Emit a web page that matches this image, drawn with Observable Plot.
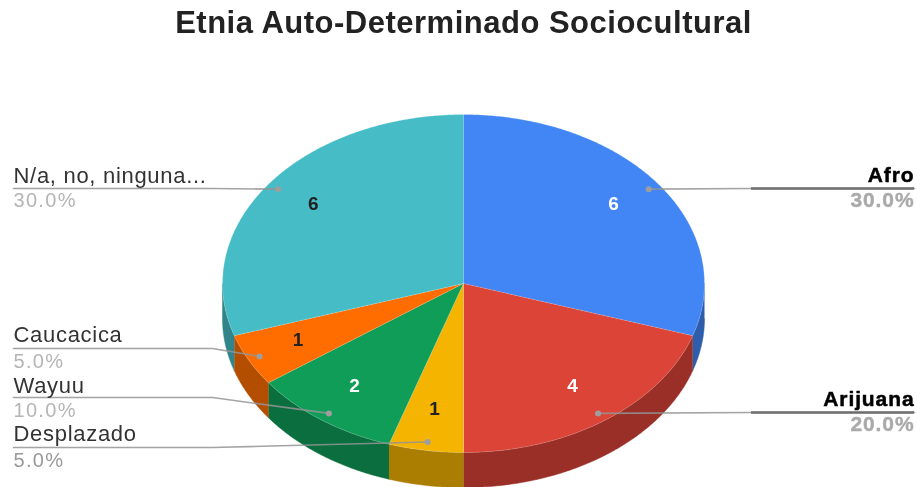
<!DOCTYPE html>
<html lang="es">
<head>
<meta charset="utf-8">
<script src="https://cdn.jsdelivr.net/npm/d3@7"></script>
<script src="https://cdn.jsdelivr.net/npm/@observablehq/plot@0.6"></script>
<style>
html,body{margin:0;padding:0;background:#fff;overflow:hidden}
svg{display:block;filter:blur(0.45px)}
g[font-size="31"] text{letter-spacing:0.5px}
g[font-size="22"] text{letter-spacing:0.7px}
g[font-size="21"] text{letter-spacing:0.9px}
g[font-size="20"] text{letter-spacing:1.3px}
</style>
</head>
<body>
<div id="chart"></div>
<script>
// Data, clockwise from twelve o'clock
const categories = ["Afro", "Arijuana", "Desplazado", "Wayuu", "Caucacica", "N/a, no, ninguna..."];
const counts = [6, 4, 1, 2, 1, 6];
const percentLabels = ["30.0%", "20.0%", "5.0%", "10.0%", "5.0%", "30.0%"];

// Style
const topColors = ["#4285f4", "#db4437", "#f4b400", "#0f9d58", "#ff6d00", "#46bdc6"];
const sideColors = ["#2e5dab", "#992f26", "#ab7d00", "#0a6e3e", "#b34d00", "#318489"];
const countColors = ["#fff", "#fff", "#222", "#fff", "#222", "#222"];
const pctColors = ["#aaa", "#aaa", "#999", "#b5b5b5", "#b5b5b5", "#b5b5b5"];

// Layout
const W = 917, H = 487;
const cx = 463, cy = 283, rx = 241, ry = 169, depth = 35;
const labelY = [175, 399, 433, 385, 334, 175];
const pctY = [200, 424, 460, 410, 361, 200];
const lineY = [188, 412, 447, 397, 348, 188];
const sides = ["r", "r", "l", "l", "l", "l"];
const edgeX = {l: 13, r: 914}, elbowX = {l: 212, r: 751};

const total = d3.sum(counts);
let cum = 0;
const slices = categories.map((name, i) => {
  const a0 = cum / total * 360; cum += counts[i];
  const a1 = cum / total * 360;
  return {i, name, a0, a1, mid: (a0 + a1) / 2};
});
const pt = (deg, r = 1, dy = 0) => {
  const t = deg * Math.PI / 180;
  return {x: cx + rx * r * Math.sin(t), y: cy - ry * r * Math.cos(t) + dy};
};
const arcDegs = (a, b) => {
  const n = Math.max(2, Math.ceil((b - a) * 2));
  return d3.range(n + 1).map(k => a + (b - a) * k / n);
};

// Side walls, front half only
const sidePts = [];
for (const s of slices) {
  const a = Math.max(s.a0, 90), b = Math.min(s.a1, 270);
  if (b <= a) continue;
  const top = arcDegs(a, b).map(d => pt(d));
  const bot = arcDegs(a, b).reverse().map(d => pt(d, 1, depth));
  for (const p of [...top, ...bot]) sidePts.push({...p, id: s.i, color: sideColors[s.i]});
}
// Top face
const topPts = [];
for (const s of slices) {
  const poly = [{x: cx, y: cy}, ...arcDegs(s.a0, s.a1).map(d => pt(d))];
  for (const p of poly) topPts.push({...p, id: s.i, color: topColors[s.i]});
}
// Leader lines
const leaders = [];
slices.forEach(s => {
  const side = sides[s.i], y = lineY[s.i];
  [{x: edgeX[side], y}, {x: elbowX[side], y}, pt(s.mid, 0.95)]
    .forEach(p => leaders.push({...p, id: s.i}));
});
const anchors = slices.map(s => pt(s.mid, 0.95));
const heavy = slices.filter(s => sides[s.i] === "r");
const countPts = slices.map(s => ({...pt(s.mid, 0.77), t: String(counts[s.i]), c: countColors[s.i]}));
const nameRows = slices.map(s => ({
  x: edgeX[sides[s.i]], y: labelY[s.i], t: s.name, side: sides[s.i]
}));
const pctRows = slices.map(s => ({
  x: edgeX[sides[s.i]], y: pctY[s.i], t: percentLabels[s.i], side: sides[s.i], c: pctColors[s.i]
}));
const font = "'Liberation Sans', Arial, sans-serif";
const rowText = (rows, opts) => Plot.text(rows, {x: "x", y: "y", text: "t", lineAnchor: "middle", fontFamily: font, ...opts});

const chart = Plot.plot({
  width: W, height: H,
  margin: 0,
  x: {domain: [0, W], range: [0, W], axis: null},
  y: {domain: [0, H], range: [0, H], axis: null},
  style: {background: "#fff"},
  marks: [
    Plot.line(sidePts, {x: "x", y: "y", z: "id", fill: "color", stroke: "color", strokeWidth: 0.5}),
    Plot.line(topPts, {x: "x", y: "y", z: "id", fill: "color", stroke: "#fff", strokeOpacity: 0.3, strokeWidth: 0.6}),
    Plot.line(leaders, {x: "x", y: "y", z: "id", stroke: "#949494", strokeWidth: 1.6, strokeOpacity: 0.85}),
    Plot.ruleY(heavy, {x1: s => edgeX.r, x2: s => elbowX.r, y: s => lineY[s.i], stroke: "#6e6e6e", strokeWidth: 2.4}),
    Plot.dot(anchors, {x: "x", y: "y", r: 3, fill: "#9e9e9e"}),
    Plot.text(countPts, {x: "x", y: "y", dy: -3, text: "t", fill: "c", fontSize: 19, fontWeight: 700, fontFamily: font, lineAnchor: "middle"}),
    rowText(nameRows.filter(r => r.side === "l"), {textAnchor: "start", fontSize: 22, fill: "#333"}),
    rowText(pctRows.filter(r => r.side === "l"), {textAnchor: "start", fontSize: 20, fill: "c"}),
    rowText(nameRows.filter(r => r.side === "r"), {textAnchor: "end", fontSize: 21, fontWeight: 700, fill: "#000", stroke: "#000", strokeWidth: 0.5}),
    rowText(pctRows.filter(r => r.side === "r"), {textAnchor: "end", fontSize: 21, fontWeight: 700, fill: "c", stroke: "c", strokeWidth: 0.4}),
    Plot.text(["Etnia Auto-Determinado Sociocultural"], {x: () => cx, y: () => 23, text: d => d, fontSize: 31, fontWeight: 700,
      fontFamily: font, fill: "#222", lineAnchor: "middle"})
  ]
});
document.getElementById("chart").append(chart);
</script>
</body>
</html>
